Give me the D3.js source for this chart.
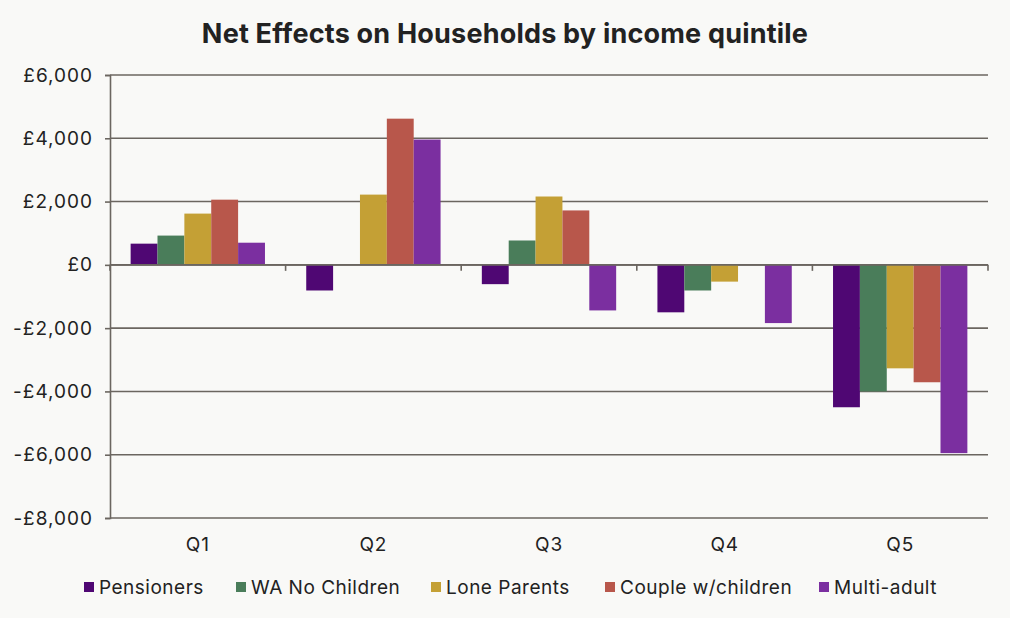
<!DOCTYPE html>
<html>
<head>
<meta charset="utf-8">
<script src="https://cdn.jsdelivr.net/npm/d3@7"></script>
<style>
html,body{margin:0;padding:0;background:#f9f9f7;}
svg{display:block;}
text{font-family:Inter, "Noto Sans", sans-serif;fill:#222;}
</style>
</head>
<body>
<svg id="chart" width="1010" height="618"></svg>
<script>
const categories = ["Q1","Q2","Q3","Q4","Q5"];
const seriesNames = ["Pensioners","WA No Children","Lone Parents","Couple w/children","Multi-adult"];
const pensioners   = [670, -810, -610, -1500, -4500];
const waNoChildren = [925, 0, 770, -810, -4000];
const loneParents  = [1620, 2220, 2160, -530, -3270];
const coupleKids   = [2060, 4620, 1720, 0, -3710];
const multiAdult   = [700, 3960, -1440, -1840, -5950];
const yTicks = [6000, 4000, 2000, 0, -2000, -4000, -6000, -8000];
const colors = ["#4f0773","#4a7d5a","#c4a035","#b8574b","#7b2fa0"];

const seriesValues = [pensioners, waNoChildren, loneParents, coupleKids, multiAdult];

(function(){
const svg = d3.select("#chart");
const W = 1010, H = 618;
svg.append("rect").attr("width",W).attr("height",H).attr("fill","#f9f9f7");

const pl = 110, pr = 988, pt = 75, pb = 518;

const y = d3.scaleLinear().domain([-8000, 6000]).range([pb, pt]);
const x0 = d3.scaleBand().domain(categories).range([pl, pr]).padding(0);
const gap = x0.bandwidth() * 0.235;
const x1 = d3.scaleBand().domain(seriesNames).range([gap/2, x0.bandwidth() - gap/2]).padding(0);

const gridColor = "#6b6660";

svg.append("g").selectAll("line").data(yTicks).join("line")
  .attr("x1", pl).attr("x2", pr)
  .attr("y1", d => y(d)).attr("y2", d => y(d))
  .attr("stroke", gridColor).attr("stroke-width", 1.6);

const groups = svg.append("g").selectAll("g").data(categories).join("g")
  .attr("transform", d => `translate(${x0(d)},0)`);
groups.selectAll("rect")
  .data((c, ci) => seriesNames.map((s, si) => ({s, si, v: seriesValues[si][ci]})))
  .join("rect")
  .attr("x", d => x1(d.s))
  .attr("width", x1.bandwidth())
  .attr("y", d => y(Math.max(0, d.v)))
  .attr("height", d => Math.abs(y(d.v) - y(0)))
  .attr("fill", d => colors[d.si]);

svg.append("line").attr("x1", pl).attr("x2", pr)
  .attr("y1", y(0)).attr("y2", y(0))
  .attr("stroke", gridColor).attr("stroke-width", 1.6);

const yAxis = d3.axisLeft(y).tickValues(yTicks).tickSize(5).tickPadding(12)
  .tickFormat(d => (d < 0 ? "-" : "") + "£" + d3.format(",")(Math.abs(d)));
const gy = svg.append("g").attr("transform", `translate(${pl},0)`).call(yAxis);
gy.select(".domain").attr("stroke", gridColor).attr("stroke-width", 1.6);
gy.selectAll(".tick line").attr("stroke", gridColor).attr("stroke-width", 1.6);
gy.selectAll(".tick text").style("font-size","19px").style("font-family","Inter").attr("fill","#222").style("letter-spacing","1px");

const bounds = categories.map(c => x0(c) + x0.bandwidth()).concat([pl]);
svg.append("g").selectAll("line").data(bounds).join("line")
  .attr("x1", d => d).attr("x2", d => d)
  .attr("y1", y(0)).attr("y2", y(0) + 6)
  .attr("stroke", gridColor).attr("stroke-width", 1.6);

svg.append("g").selectAll("text").data(categories).join("text")
  .attr("x", d => x0(d) + x0.bandwidth()/2)
  .attr("y", 551)
  .attr("text-anchor","middle")
  .style("font-size","19px")
  .style("letter-spacing","0.8px")
  .text(d => d);

svg.append("text").attr("x", 505).attr("y", 43).attr("text-anchor","middle")
  .style("font-size","27px").style("font-weight","700").style("letter-spacing","0.2px")
  .text("Net Effects on Households by income quintile");

const legendX = [84, 236, 431, 605, 819];
const lg = svg.append("g").selectAll("g").data(seriesNames).join("g")
  .attr("transform", (d,i) => `translate(${legendX[i]},587)`);
lg.append("rect").attr("x",0).attr("y",-5).attr("width",10).attr("height",10)
  .attr("fill", (d,i) => colors[i]);
lg.append("text").attr("x",15).attr("y",6.5)
  .style("font-size","19px").style("letter-spacing","0.5px")
  .text(d => d);
})();
</script>
</body>
</html>
